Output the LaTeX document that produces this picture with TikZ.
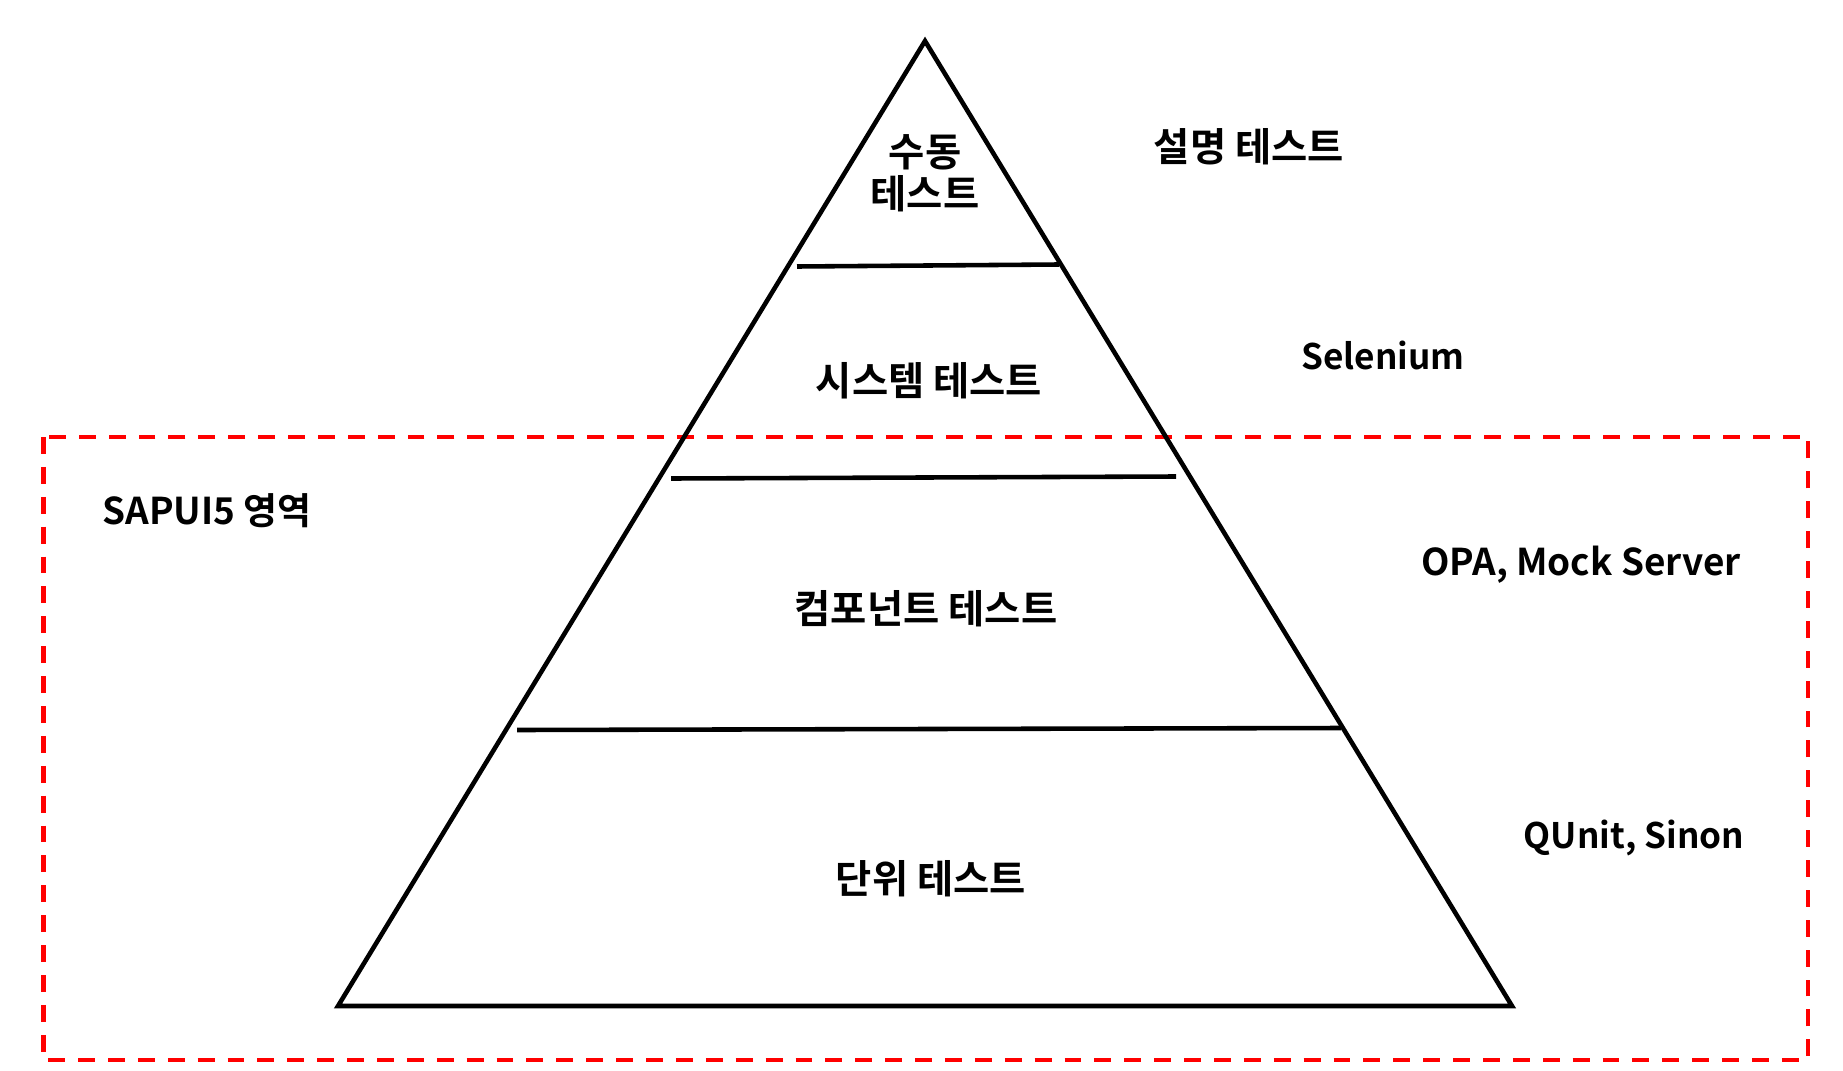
\documentclass[tikz,border=0pt]{standalone}
\usepackage{fontspec}
\setmainfont{Noto Sans CJK KR}[BoldFont={* Bold}]
\newfontfamily\kr{Noto Sans CJK KR Bold}
\tikzset{
  edge/.style={line width=1.3pt, line join=miter},
  tier/.style={line width=1.3pt},
  region/.style={draw=red, line width=1.25pt, dash pattern=on 4.8pt off 3.7pt},
  lbl/.style={font=\kr\fontsize{10.5pt}{12.5pt}\selectfont, inner sep=0pt, align=center},
  klbl/.style={font=\kr\fontsize{11.2pt}{12.5pt}\selectfont, inner sep=0pt, align=center},
  elbl/.style={font=\kr\fontsize{10pt}{12.5pt}\selectfont, inner sep=0pt, align=center}
}
\begin{document}
\begin{tikzpicture}[x=0.01cm, y=-0.01cm]
\useasboundingbox (0,0) rectangle (1843,1070);
\fill[white] (0,0) rectangle (1843,1070);
% region
\draw[region] (43.5,437) rectangle (1808,1060);
% pyramid
\coordinate (apex) at (925,41);
\coordinate (bl) at (338,1006);
\coordinate (br) at (1512,1006);
\draw[edge] (apex) -- (bl) -- (br) -- cycle;
% tiers
\coordinate (t1l) at (797,266.5); \coordinate (t1r) at (1059,264.5);
\coordinate (t2l) at (671,478.5); \coordinate (t2r) at (1176,476.5);
\coordinate (t3l) at (517,730); \coordinate (t3r) at (1341,728);
\draw[tier] (t1l) -- (t1r);
\draw[tier] (t2l) -- (t2r);
\draw[tier] (t3l) -- (t3r);
% labels
\node[klbl, align=center] (manual) at (925,173) {수동\\[-0.5pt]테스트};
\node[klbl] (explain) at (1249,147) {설명 테스트};
\node[klbl] (system) at (929,381) {시스템 테스트};
\node[elbl] (selenium) at (1383,355) {Selenium};
\node[lbl] (sapui) at (207,511) {SAPUI5 영역};
\node[lbl] (opa) at (1581,565) {OPA, Mock Server};
\node[klbl] (comp) at (926,609) {컴포넌트 테스트};
\node[elbl] (qunit) at (1634,838) {QUnit, Sinon};
\node[klbl] (unit) at (931,879) {단위 테스트};
\end{tikzpicture}
\end{document}
